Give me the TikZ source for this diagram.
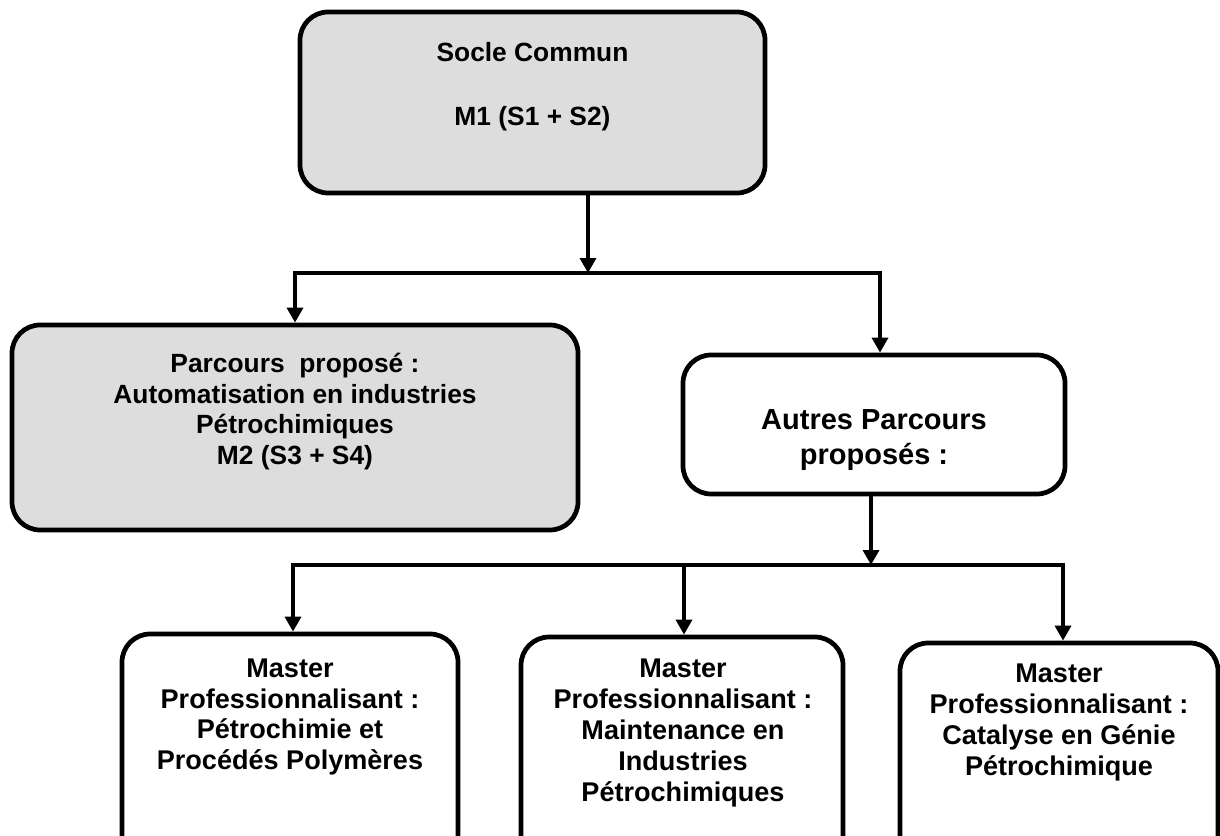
\documentclass[tikz,border=0pt]{standalone}
\usepackage{fontspec}
\setmainfont{Liberation Sans}
\usetikzlibrary{arrows.meta}
\definecolor{boxgray}{HTML}{DDDDDD}

\begin{document}
\begin{tikzpicture}[
    box/.style={draw, line width=2.7pt, rounded corners=16pt, minimum width=#1},
    txt/.style={align=center, font=\bfseries},
    arr/.style={line width=2.7pt, -{Triangle[length=8.5pt,width=9pt]}},
    arrs/.style={line width=2.7pt, {Triangle[length=8.5pt,width=9pt]}-{Triangle[length=8.5pt,width=9pt]}}
  ]
  \clip (0,0) rectangle (24.4,-16.72);
  % boxes
  \node[box=9.3cm, minimum height=3.62cm, fill=boxgray] (s1) at (10.65,-2.05) {};
  \node[box=11.32cm, minimum height=4.1cm, fill=boxgray] (p1) at (5.9,-8.55) {};
  \node[box=7.64cm, minimum height=2.78cm, fill=white] (p2) at (17.48,-8.49) {};
  \node[box=6.72cm, minimum height=4.72cm] (m1) at (5.8,-15.04) {};
  \node[box=6.44cm, minimum height=4.66cm] (m2) at (13.64,-15.07) {};
  \node[box=6.36cm, minimum height=4.54cm] (m3) at (21.18,-15.13) {};
  % texts
  \node[txt, font=\fontsize{15}{18}\bfseries] (t1) at (10.65,-1.04) {Socle Commun};
  \node[txt, font=\fontsize{15}{18}\bfseries] (t2) at (10.65,-2.38) {M1 (S1 + S2)};
  \node[txt, font=\fontsize{15}{17.5}\bfseries] (t3) at (5.9,-8.23) {Parcours\ \ proposé :\\Automatisation en industries\\Pétrochimiques\\M2 (S3 + S4)};
  \node[txt, font=\fontsize{16.5}{19.8}\bfseries] (t4) at (17.48,-8.8) {Autres Parcours\\proposés :};
  \node[txt, font=\fontsize{15.4}{17.6}\bfseries] (t5) at (5.8,-14.34) {Master\\Professionnalisant :\\Pétrochimie et\\Procédés Polymères};
  \node[txt, font=\fontsize{15.4}{17.6}\bfseries] (t6) at (13.66,-14.66) {Master\\Professionnalisant :\\Maintenance en\\Industries\\Pétrochimiques};
  \node[txt, font=\fontsize{15.4}{17.6}\bfseries] (t7) at (21.18,-14.45) {Master\\Professionnalisant :\\Catalyse en Génie\\Pétrochimique};
  % connectors
  \coordinate (j1) at (11.76,-5.46);
  \coordinate (j1l) at (5.9,-5.46);
  \coordinate (j1r) at (17.6,-5.46);
  \coordinate (k1) at (17.42,-11.3);
  \coordinate (k1l) at (5.86,-11.3);
  \coordinate (k1c) at (13.68,-11.3);
  \coordinate (k1r) at (21.26,-11.3);
  \draw[arr] (s1.south -| j1) -- (j1);
  \draw[arrs] (p1.north -| j1l) -- (j1l) -- (j1r) -- (p2.north -| j1r);
  \draw[arr] (p2.south -| k1) -- (k1);
  \draw[arrs] (m1.north -| k1l) -- (k1l) -- (k1r) -- (m3.north -| k1r);
  \draw[arr] (k1c) -- (m2.north -| k1c);
\end{tikzpicture}
\end{document}
